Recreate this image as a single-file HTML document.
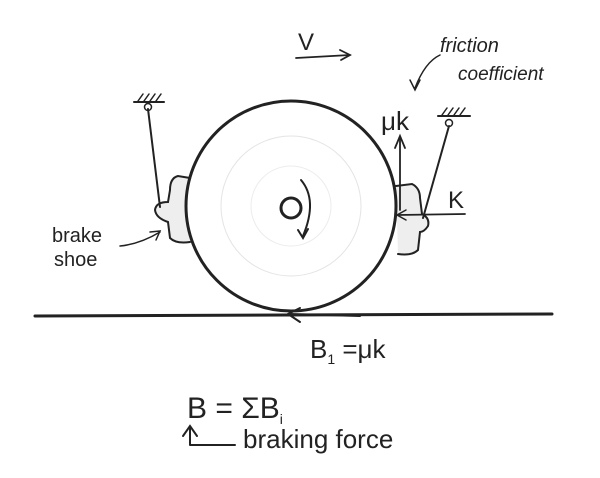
<!DOCTYPE html>
<html><head><style>
html,body{margin:0;padding:0;background:#fff;}
svg{display:block}
text{font-family:"Liberation Sans",sans-serif;fill:#222}
</style></head><body>
<svg width="600" height="478" viewBox="0 0 600 478" xmlns="http://www.w3.org/2000/svg">
<rect width="600" height="478" fill="#fff"/>
<g stroke="#222" fill="none" stroke-linecap="round">
<line x1="35" y1="316" x2="552" y2="314" stroke-width="3"/>
<path d="M190,178 L178,176 Q170,178 170,190 L168,202 Q156,202 155,210 Q156,218 168,222 L170,238 Q176,244 190,242" fill="#eee" stroke-width="2"/>
<path d="M396,186 L412,184 Q420,188 420,198 L422,214 Q430,218 428,226 Q424,232 420,232 L418,250 Q412,256 398,254" fill="#eee" stroke-width="2"/>
<circle cx="291" cy="206" r="105" fill="#fff" stroke-width="3"/>
<circle cx="291" cy="206" r="70" stroke="#e4e4e4" stroke-width="1"/>
<circle cx="291" cy="206" r="40" stroke="#ececec" stroke-width="1"/>
<circle cx="291" cy="208" r="10" stroke-width="3"/>
<path d="M301,180 Q318,200 303,236" stroke-width="2"/>
<path d="M298,230 L303,238 L308,229" stroke-width="2"/>
<line x1="148" y1="109" x2="160" y2="207" stroke-width="2"/>
<circle cx="148" cy="107" r="3.5" stroke-width="1.5"/>
<line x1="134" y1="102" x2="164" y2="102" stroke-width="2"/>
<path d="M138,101 l5,-7 M144,101 l5,-7 M150,101 l5,-7 M156,101 l5,-7" stroke-width="1.5"/>
<line x1="449" y1="126" x2="423" y2="218" stroke-width="2"/>
<circle cx="449" cy="123" r="3.5" stroke-width="1.5"/>
<line x1="438" y1="116" x2="470" y2="116" stroke-width="2"/>
<path d="M442,115 l5,-7 M448,115 l5,-7 M454,115 l5,-7 M460,115 l5,-7" stroke-width="1.5"/>
<line x1="400" y1="210" x2="400" y2="138" stroke-width="1.8"/>
<path d="M395,148 L400,136 L405,148" stroke-width="1.8"/>
<line x1="465" y1="214" x2="398" y2="215" stroke-width="1.8"/>
<path d="M406,210 L397,215 L406,220" stroke-width="1.5"/>
<line x1="360" y1="316" x2="290" y2="314" stroke-width="2"/>
<path d="M300,308 L288,314 L300,322" stroke-width="2"/>
<path d="M120,246 Q140,244 160,232" stroke-width="1.5"/>
<path d="M150,232 L160,231 L156,240" stroke-width="1.5"/>
<line x1="296" y1="58" x2="350" y2="55" stroke-width="1.8"/>
<path d="M340,50 L350,55 L341,60" stroke-width="1.8"/>
<path d="M440,55 Q425,62 415,88" stroke-width="1.5"/>
<path d="M410,80 L415,90 L420,80" stroke-width="1.5"/>
<path d="M190,445 L190,428 M183,436 L190,426 L197,436 M190,445 L235,445" stroke-width="2"/>
</g>
<text x="298" y="50" font-size="24">V</text>
<text x="440" y="52" font-size="20" font-style="italic">friction</text>
<text x="458" y="80" font-size="19" font-style="italic">coefficient</text>
<text x="381" y="130" font-size="26">μk</text>
<text x="448" y="208" font-size="24">K</text>
<text x="52" y="242" font-size="20">brake</text>
<text x="54" y="266" font-size="20">shoe</text>
<text x="310" y="358" font-size="26">B<tspan font-size="14" dy="6">1</tspan><tspan dy="-6"> =μk</tspan></text>
<text x="187" y="418" font-size="30">B = ΣB<tspan font-size="14" dy="6">i</tspan></text>
<text x="243" y="448" font-size="26">braking force</text>
</svg>
</body></html>
